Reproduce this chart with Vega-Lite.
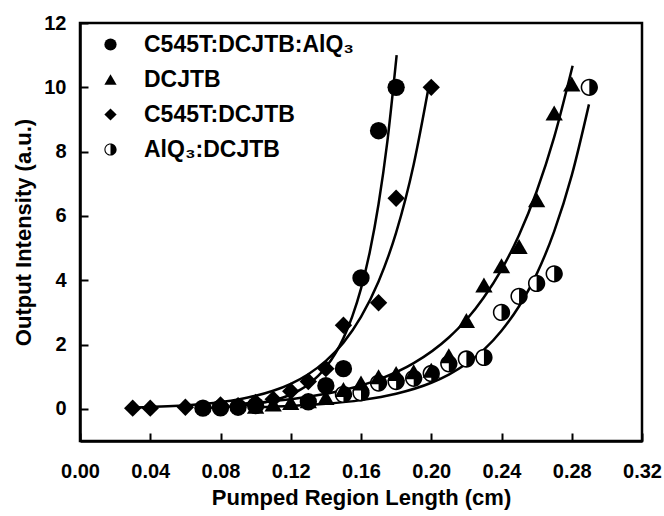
{
  "$schema": "https://vega.github.io/schema/vega-lite/v6.json",
  "width": 562,
  "height": 418,
  "autosize": "none",
  "padding": {"left": 80, "top": 23, "right": 22, "bottom": 75},
  "config": {
    "view": {"stroke": "black", "strokeWidth": 2.5},
    "font": "Liberation Sans",
    "legend": {
      "labelFont": "Liberation Sans",
      "labelFontWeight": "bold",
      "labelFontSize": 23,
      "labelColor": "black",
      "labelLimit": 0
    }
  },
  "datasets": {
    "pts": [
      {"s": "C545T:DCJTB:AlQ₃", "x": 0.07, "y": 0.02},
      {"s": "C545T:DCJTB:AlQ₃", "x": 0.08, "y": 0.03},
      {"s": "C545T:DCJTB:AlQ₃", "x": 0.09, "y": 0.05},
      {"s": "C545T:DCJTB:AlQ₃", "x": 0.10, "y": 0.1},
      {"s": "C545T:DCJTB:AlQ₃", "x": 0.13, "y": 0.22},
      {"s": "C545T:DCJTB:AlQ₃", "x": 0.14, "y": 0.72},
      {"s": "C545T:DCJTB:AlQ₃", "x": 0.15, "y": 1.25},
      {"s": "C545T:DCJTB:AlQ₃", "x": 0.16, "y": 4.07},
      {"s": "C545T:DCJTB:AlQ₃", "x": 0.17, "y": 8.65},
      {"s": "C545T:DCJTB:AlQ₃", "x": 0.18, "y": 10.0},
      {"s": "DCJTB", "x": 0.10, "y": 0.08},
      {"s": "DCJTB", "x": 0.11, "y": 0.15},
      {"s": "DCJTB", "x": 0.12, "y": 0.2},
      {"s": "DCJTB", "x": 0.13, "y": 0.25},
      {"s": "DCJTB", "x": 0.14, "y": 0.35},
      {"s": "DCJTB", "x": 0.15, "y": 0.6},
      {"s": "DCJTB", "x": 0.16, "y": 0.8},
      {"s": "DCJTB", "x": 0.17, "y": 1.0},
      {"s": "DCJTB", "x": 0.18, "y": 1.1},
      {"s": "DCJTB", "x": 0.19, "y": 1.15},
      {"s": "DCJTB", "x": 0.20, "y": 1.2},
      {"s": "DCJTB", "x": 0.21, "y": 1.65},
      {"s": "DCJTB", "x": 0.22, "y": 2.75},
      {"s": "DCJTB", "x": 0.23, "y": 3.85},
      {"s": "DCJTB", "x": 0.24, "y": 4.45},
      {"s": "DCJTB", "x": 0.25, "y": 5.05},
      {"s": "DCJTB", "x": 0.26, "y": 6.5},
      {"s": "DCJTB", "x": 0.27, "y": 9.2},
      {"s": "DCJTB", "x": 0.28, "y": 10.1},
      {"s": "C545T:DCJTB", "x": 0.03, "y": 0.02},
      {"s": "C545T:DCJTB", "x": 0.04, "y": 0.02},
      {"s": "C545T:DCJTB", "x": 0.06, "y": 0.05},
      {"s": "C545T:DCJTB", "x": 0.08, "y": 0.12},
      {"s": "C545T:DCJTB", "x": 0.09, "y": 0.1},
      {"s": "C545T:DCJTB", "x": 0.10, "y": 0.2},
      {"s": "C545T:DCJTB", "x": 0.11, "y": 0.3},
      {"s": "C545T:DCJTB", "x": 0.12, "y": 0.55},
      {"s": "C545T:DCJTB", "x": 0.13, "y": 0.85},
      {"s": "C545T:DCJTB", "x": 0.14, "y": 1.25},
      {"s": "C545T:DCJTB", "x": 0.15, "y": 2.6},
      {"s": "C545T:DCJTB", "x": 0.17, "y": 3.3},
      {"s": "C545T:DCJTB", "x": 0.18, "y": 6.55},
      {"s": "C545T:DCJTB", "x": 0.20, "y": 10.0},
      {"s": "AlQ₃:DCJTB", "x": 0.15, "y": 0.45},
      {"s": "AlQ₃:DCJTB", "x": 0.16, "y": 0.5},
      {"s": "AlQ₃:DCJTB", "x": 0.17, "y": 0.8},
      {"s": "AlQ₃:DCJTB", "x": 0.18, "y": 0.85},
      {"s": "AlQ₃:DCJTB", "x": 0.19, "y": 0.95},
      {"s": "AlQ₃:DCJTB", "x": 0.20, "y": 1.1},
      {"s": "AlQ₃:DCJTB", "x": 0.21, "y": 1.4},
      {"s": "AlQ₃:DCJTB", "x": 0.22, "y": 1.55},
      {"s": "AlQ₃:DCJTB", "x": 0.23, "y": 1.6},
      {"s": "AlQ₃:DCJTB", "x": 0.24, "y": 3.0},
      {"s": "AlQ₃:DCJTB", "x": 0.25, "y": 3.5},
      {"s": "AlQ₃:DCJTB", "x": 0.26, "y": 3.9},
      {"s": "AlQ₃:DCJTB", "x": 0.27, "y": 4.2},
      {"s": "AlQ₃:DCJTB", "x": 0.29, "y": 10.0}
    ],
    "fits": [
      {"c": "a", "x": 0.07, "y": 0.031},
      {"c": "a", "x": 0.08, "y": 0.053},
      {"c": "a", "x": 0.09, "y": 0.09},
      {"c": "a", "x": 0.10, "y": 0.154},
      {"c": "a", "x": 0.11, "y": 0.262},
      {"c": "a", "x": 0.12, "y": 0.446},
      {"c": "a", "x": 0.13, "y": 0.758},
      {"c": "a", "x": 0.14, "y": 1.29},
      {"c": "a", "x": 0.15, "y": 2.2},
      {"c": "a", "x": 0.155, "y": 2.87},
      {"c": "a", "x": 0.16, "y": 3.74},
      {"c": "a", "x": 0.165, "y": 4.88},
      {"c": "a", "x": 0.17, "y": 6.37},
      {"c": "a", "x": 0.175, "y": 8.31},
      {"c": "a", "x": 0.18, "y": 10.84},
      {"c": "a", "x": 0.1803, "y": 11.0},
      {"c": "b", "x": 0.03, "y": 0.041},
      {"c": "b", "x": 0.05, "y": 0.079},
      {"c": "b", "x": 0.07, "y": 0.152},
      {"c": "b", "x": 0.09, "y": 0.293},
      {"c": "b", "x": 0.10, "y": 0.405},
      {"c": "b", "x": 0.11, "y": 0.561},
      {"c": "b", "x": 0.12, "y": 0.777},
      {"c": "b", "x": 0.13, "y": 1.076},
      {"c": "b", "x": 0.14, "y": 1.49},
      {"c": "b", "x": 0.15, "y": 2.06},
      {"c": "b", "x": 0.16, "y": 2.86},
      {"c": "b", "x": 0.17, "y": 3.96},
      {"c": "b", "x": 0.18, "y": 5.48},
      {"c": "b", "x": 0.19, "y": 7.6},
      {"c": "b", "x": 0.1985, "y": 10.0},
      {"c": "c", "x": 0.09, "y": 0.153},
      {"c": "c", "x": 0.11, "y": 0.24},
      {"c": "c", "x": 0.13, "y": 0.374},
      {"c": "c", "x": 0.15, "y": 0.584},
      {"c": "c", "x": 0.17, "y": 0.911},
      {"c": "c", "x": 0.19, "y": 1.42},
      {"c": "c", "x": 0.21, "y": 2.22},
      {"c": "c", "x": 0.22, "y": 2.77},
      {"c": "c", "x": 0.23, "y": 3.47},
      {"c": "c", "x": 0.24, "y": 4.33},
      {"c": "c", "x": 0.25, "y": 5.41},
      {"c": "c", "x": 0.26, "y": 6.76},
      {"c": "c", "x": 0.27, "y": 8.45},
      {"c": "c", "x": 0.2805, "y": 10.67},
      {"c": "d", "x": 0.10, "y": 0.052},
      {"c": "d", "x": 0.12, "y": 0.091},
      {"c": "d", "x": 0.14, "y": 0.157},
      {"c": "d", "x": 0.16, "y": 0.271},
      {"c": "d", "x": 0.18, "y": 0.469},
      {"c": "d", "x": 0.20, "y": 0.811},
      {"c": "d", "x": 0.21, "y": 1.067},
      {"c": "d", "x": 0.22, "y": 1.4},
      {"c": "d", "x": 0.23, "y": 1.84},
      {"c": "d", "x": 0.24, "y": 2.43},
      {"c": "d", "x": 0.25, "y": 3.19},
      {"c": "d", "x": 0.26, "y": 4.19},
      {"c": "d", "x": 0.27, "y": 5.52},
      {"c": "d", "x": 0.28, "y": 7.26},
      {"c": "d", "x": 0.2898, "y": 9.47}
    ]
  },
  "layer": [
    {
      "data": {"name": "fits"},
      "mark": {"type": "line", "color": "black", "strokeWidth": 2.5, "interpolate": "monotone"},
      "encoding": {
        "x": {
          "field": "x", "type": "quantitative",
          "scale": {"domain": [0, 0.32], "nice": false, "zero": false},
          "axis": {
            "title": "Pumped Region Length (cm)",
            "values": [0, 0.02, 0.04, 0.06, 0.08, 0.1, 0.12, 0.14, 0.16, 0.18, 0.2, 0.22, 0.24, 0.26, 0.28, 0.3, 0.32],
            "labelExpr": "round(datum.value*100) % 4 == 0 ? format(datum.value, '.2f') : ''",
            "gridOpacity": 0,
            "domainColor": "black",
            "domainWidth": 2.5,
            "tickSize": -8,
            "tickColor": "black",
            "tickWidth": 2,
            "labelPadding": 28,
            "labelFlush": false,
            "labelOverlap": false,
            "labelColor": "black",
            "labelFont": "Liberation Sans",
            "labelFontWeight": "bold",
            "labelFontSize": 20,
            "titleFont": "Liberation Sans",
            "titleFontWeight": "bold",
            "titleFontSize": 22,
            "titleColor": "black",
            "titlePadding": 6
          }
        },
        "y": {
          "field": "y", "type": "quantitative",
          "scale": {"domain": [-1, 12], "nice": false, "zero": false},
          "axis": {
            "title": "Output Intensity (a.u.)",
            "values": [0, 1, 2, 3, 4, 5, 6, 7, 8, 9, 10, 11, 12],
            "labelExpr": "datum.value % 2 == 0 ? datum.label : ''",
            "gridOpacity": 0,
            "domainColor": "black",
            "domainWidth": 2.5,
            "tickSize": -8,
            "tickColor": "black",
            "tickWidth": 2,
            "labelPadding": 22,
            "labelFlush": false,
            "labelOverlap": false,
            "labelColor": "black",
            "labelFont": "Liberation Sans",
            "labelFontWeight": "bold",
            "labelFontSize": 20,
            "titleFont": "Liberation Sans",
            "titleFontWeight": "bold",
            "titleFontSize": 22,
            "titleColor": "black",
            "titlePadding": 8
          }
        },
        "detail": {"field": "c"}
      }
    },
    {
      "data": {"name": "pts"},
      "transform": [{"filter": "datum.s == 'AlQ₃:DCJTB'"}],
      "mark": {"type": "point", "shape": "circle", "filled": true, "fill": "white", "strokeWidth": 0, "opacity": 1, "size": 225},
      "encoding": {
        "x": {"field": "x", "type": "quantitative"},
        "y": {"field": "y", "type": "quantitative"}
      }
    },
    {
      "data": {"name": "pts"},
      "mark": {"type": "point", "filled": true, "color": "black", "opacity": 1, "strokeWidth": 0, "size": 300},
      "encoding": {
        "x": {"field": "x", "type": "quantitative"},
        "y": {"field": "y", "type": "quantitative"},
        "shape": {
          "field": "s", "type": "nominal",
          "scale": {
            "domain": ["C545T:DCJTB:AlQ₃", "DCJTB", "C545T:DCJTB", "AlQ₃:DCJTB"],
            "range": ["circle", "triangle-up", "diamond", "M0,-1A1,1 0 0,1 0,1A1,1 0 0,1 0,-1ZM0,-0.82A0.82,0.82 0 0,0 0,0.82Z"]
          },
          "legend": {
            "title": null,
            "orient": "none",
            "legendX": 19,
            "legendY": 10,
            "symbolSize": 150,
            "symbolFillColor": "black",
            "symbolStrokeWidth": 0,
            "labelOffset": 22,
            "rowPadding": 11,
            "padding": 0
          }
        }
      }
    }
  ]
}
